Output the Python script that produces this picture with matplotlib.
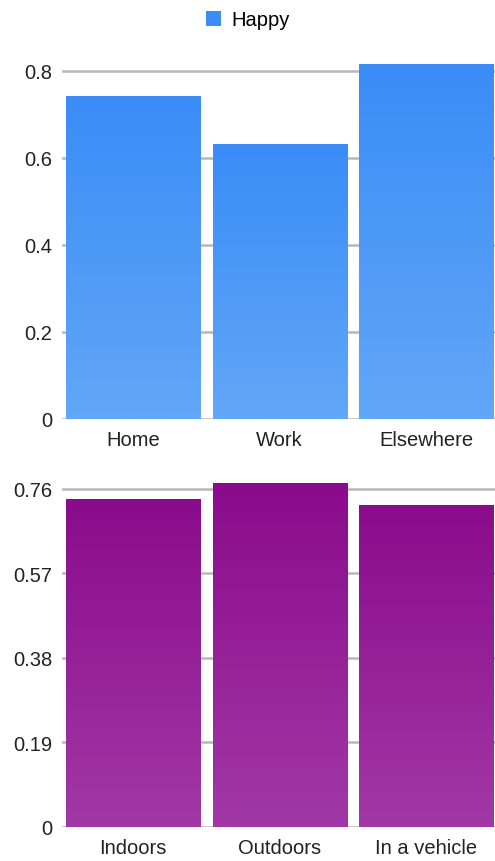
import matplotlib.pyplot as plt
import numpy as np
from matplotlib.colors import LinearSegmentedColormap

# data
places = ["Home", "Work", "Elsewhere"]
happy_place = [0.742, 0.632, 0.816]
settings = ["Indoors", "Outdoors", "In a vehicle"]
happy_setting = [0.7375, 0.774, 0.724]
ticks_top = [0, 0.2, 0.4, 0.6, 0.8]
ticks_bot = [0, 0.19, 0.38, 0.57, 0.76]

plt.rcParams['font.family'] = ['Liberation Sans', 'DejaVu Sans']

fig = plt.figure(figsize=(4.95, 8.62), dpi=100)
ax1 = fig.add_axes([62/495, 1 - 420/862, 433/495, (420 - 63.3)/862])
ax2 = fig.add_axes([62/495, 1 - 828/862, 433/495, (828 - 483.3)/862])


def gradient_bars(ax, labels, vals, c_top, c_bot, ymax, ticks):
    x = np.arange(len(labels))
    bars = ax.bar(x, vals, width=0.915, color=c_top, zorder=2)
    cmap = LinearSegmentedColormap.from_list("g", [c_bot, c_top])
    grad = np.linspace(0, 1, 256).reshape(-1, 1)
    for b in bars:
        xl, w, h = b.get_x(), b.get_width(), b.get_height()
        im = ax.imshow(grad, cmap=cmap, origin='lower', aspect='auto',
                       extent=[xl, xl + w, 0, h], zorder=3)
        im.set_clip_path(b)
    ax.set_xlim(-0.485, 2.47)
    ax.set_ylim(0, ymax)
    ax.set_yticks(ticks)
    ax.set_yticklabels([("%g" % t) for t in ticks])
    ax.set_xticks(x)
    ax.set_xticklabels(labels)
    ax.grid(axis='y', color='#b8b8b8', linewidth=1.8, zorder=1)
    ax.set_axisbelow(True)
    for s in ax.spines.values():
        s.set_visible(False)
    ax.tick_params(length=0, labelsize=14.5, labelcolor='#222222')
    ax.tick_params(axis='y', pad=7)
    ax.tick_params(axis='x', pad=8)
    return bars


b1 = gradient_bars(ax1, places, happy_place, '#3a8cf6', '#62a7f8', 0.82, ticks_top)
gradient_bars(ax2, settings, happy_setting, '#8a0b8c', '#a238a6', 0.775, ticks_bot)

fig.legend([b1], ["Happy"], loc='center', bbox_to_anchor=(0.5, 1 - 21/862),
           frameon=False, fontsize=14.5, handlelength=0.75, handleheight=0.75,
           handletextpad=0.5)

plt.savefig("out.png", dpi=100)
